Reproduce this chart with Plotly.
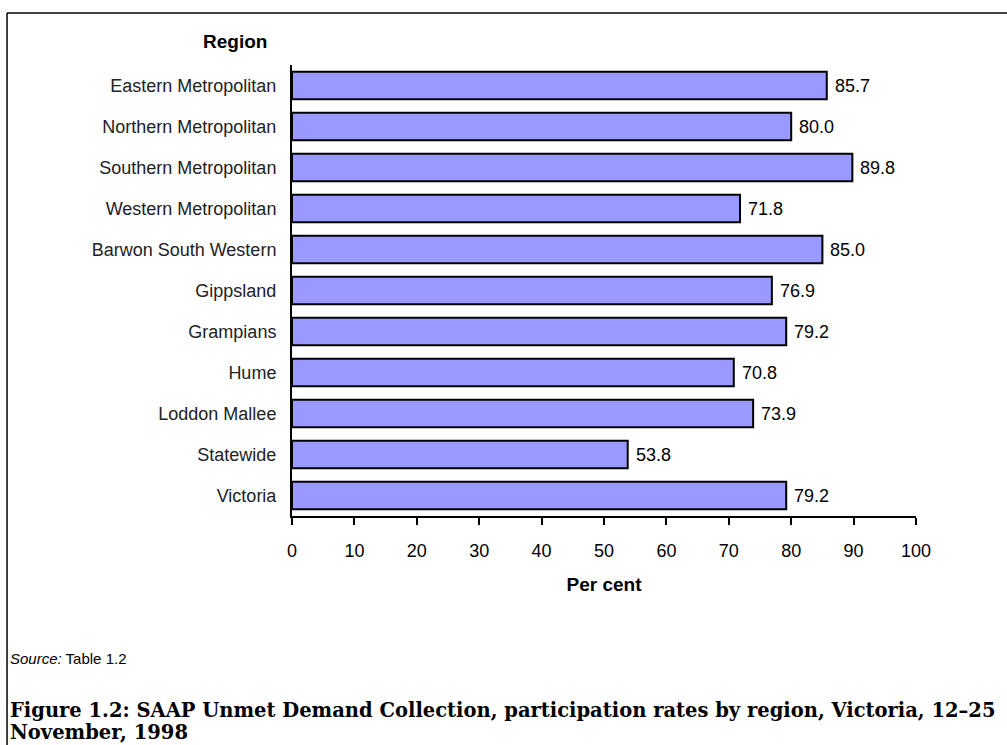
import plotly.graph_objects as go

regions = ["Eastern Metropolitan", "Northern Metropolitan", "Southern Metropolitan",
           "Western Metropolitan", "Barwon South Western", "Gippsland", "Grampians",
           "Hume", "Loddon Mallee", "Statewide", "Victoria"]
rates = [85.7, 80.0, 89.8, 71.8, 85.0, 76.9, 79.2, 70.8, 73.9, 53.8, 79.2]
x_ticks = [0, 10, 20, 30, 40, 50, 60, 70, 80, 90, 100]
caption = ["Figure 1.2: SAAP Unmet Demand Collection, participation rates by region, Victoria, 12–25",
           "November, 1998"]

fig = go.Figure(go.Bar(
    x=rates, y=regions, orientation="h",
    marker=dict(color="#9999ff", line=dict(color="black", width=2)),
    width=0.67,
))

# value labels just right of each bar
for r, v in zip(regions, rates):
    fig.add_annotation(x=v, y=r, text=f"{v:.1f}", xanchor="left", yanchor="middle",
                       xshift=6, showarrow=False,
                       font=dict(family="Liberation Sans, Arial", size=18, color="black"))

fig.update_layout(
    width=1007, height=745,
    margin=dict(l=292, r=91, t=65, b=229),
    paper_bgcolor="white", plot_bgcolor="white",
    showlegend=False,
    font=dict(family="Liberation Sans, Arial", color="black"),
    xaxis=dict(
        range=[0, 100], tickvals=x_ticks, showgrid=False, zeroline=False,
        showline=True, linecolor="black", linewidth=2, automargin=False,
        ticks="outside", ticklen=7, tickwidth=1.5, tickcolor="black",
        tickfont=dict(size=18), ticklabelstandoff=10,
        title=dict(text="<b>Per cent</b>", font=dict(size=19), standoff=18),
    ),
    yaxis=dict(
        autorange="reversed", showgrid=False, zeroline=False, automargin=False,
        showline=True, linecolor="black", linewidth=2, ticks="",
        tickfont=dict(size=18, color="#222"), ticklabelstandoff=10,
    ),
    shapes=[
        dict(type="line", xref="paper", yref="paper", x0=-0.4567, x1=1.2, y0=1.1153, y1=1.1153,
             line=dict(color="black", width=1.5)),
        dict(type="line", xref="paper", yref="paper", x0=-0.4567, x1=-0.4567, y0=1.1153, y1=-0.6,
             line=dict(color="black", width=1.5)),
    ],
)

fig.add_annotation(text="<b>Region</b>", xref="paper", yref="paper", x=-0.0913, y=1.051,
                   xanchor="center", yanchor="middle", showarrow=False, font=dict(size=19))
fig.add_annotation(text="<i>Source:</i> Table 1.2", xref="paper", yref="paper", x=-0.4551, y=-0.317,
                   xanchor="left", yanchor="middle", showarrow=False, font=dict(size=15))
for line, yc in zip(caption, [-0.432, -0.481]):
    fig.add_annotation(text=f"<b>{line}</b>", xref="paper", yref="paper", x=-0.4551, y=yc,
                       xanchor="left", yanchor="middle", showarrow=False,
                       font=dict(family="DejaVu Serif, Liberation Serif", size=19.5))

fig.write_html("out.html", config={"displayModeBar": False},
               post_script="document.body.style.margin='0px';")
